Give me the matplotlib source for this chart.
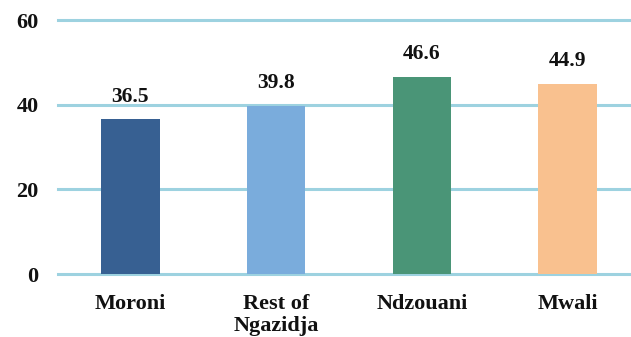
import matplotlib.pyplot as plt
import numpy as np

# Bar chart data
regions = ['Moroni', 'Rest of\nNgazidja', 'Ndzouani', 'Mwali']
values = [36.5, 39.8, 46.6, 44.9]
bar_colors = ['#376092', '#7AACDC', '#4A9577', '#F9C18F']
y_ticks = [0, 20, 40, 60]

plt.rcParams['font.family'] = ['Liberation Serif', 'DejaVu Serif']
plt.rcParams['font.weight'] = 'bold'

fig = plt.figure(figsize=(6.31, 3.37), dpi=100)
ax = fig.add_axes([57.5 / 631, 63 / 337, 1 - 57.5 / 631, 254 / 337])

x = np.arange(len(regions))
ax.bar(x, values, width=0.4, color=bar_colors, zorder=3)

for xi, v in zip(x, values):
    ax.text(xi, v + 3.0, f'{v:.1f}', ha='center', va='bottom',
            fontsize=15.5, fontweight='bold', color='#111111')

# Gridlines
for t in y_ticks:
    ax.axhline(t, color='#9DD2E0', lw=2.2, zorder=1, clip_on=False)

ax.set_xlim(-0.5, 3.435)
ax.set_ylim(0, 60)
ax.set_xticks(x)
ax.set_xticklabels(regions, fontsize=16, fontweight='bold', linespacing=1.1)
ax.set_yticks(y_ticks)
ax.set_yticklabels([str(t) for t in y_ticks], fontsize=16, fontweight='bold')
ax.tick_params(axis='x', length=0, pad=14.5, colors='#111111')
ax.tick_params(axis='y', length=0, pad=13.7, colors='#111111')
for s in ax.spines.values():
    s.set_visible(False)

fig.savefig('out.png', dpi=100)
